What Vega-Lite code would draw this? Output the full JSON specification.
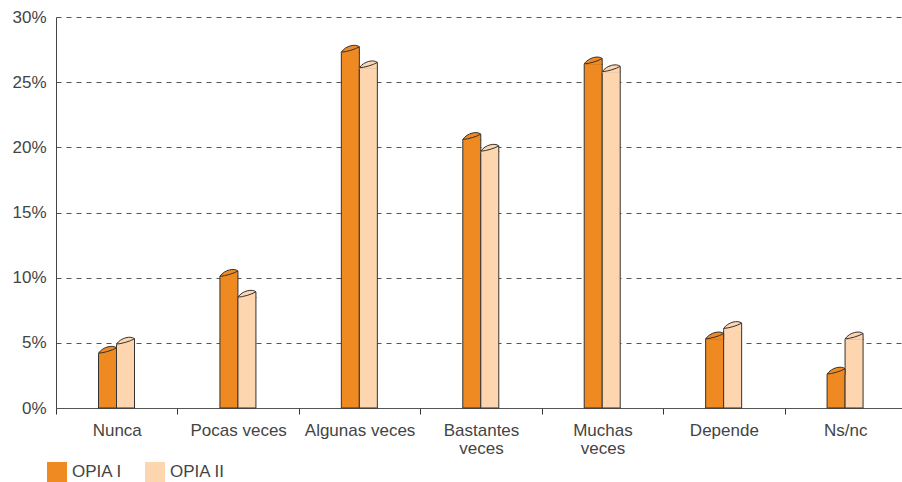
{
  "$schema": "https://vega.github.io/schema/vega-lite/v6.json",
  "width": 850,
  "height": 391,
  "autosize": "none",
  "padding": {"left": 56, "top": 17, "right": 0, "bottom": 74},
  "config": {"view": {"stroke": null}, "font": "Liberation Sans"},
  "data": {
    "values": [
      {"cat": "Nunca", "serie": "OPIA I", "value": 4.2},
      {"cat": "Nunca", "serie": "OPIA II", "value": 4.9},
      {"cat": "Pocas veces", "serie": "OPIA I", "value": 10.1},
      {"cat": "Pocas veces", "serie": "OPIA II", "value": 8.5},
      {"cat": "Algunas veces", "serie": "OPIA I", "value": 27.3},
      {"cat": "Algunas veces", "serie": "OPIA II", "value": 26.1},
      {"cat": "Bastantes veces", "serie": "OPIA I", "value": 20.6},
      {"cat": "Bastantes veces", "serie": "OPIA II", "value": 19.7},
      {"cat": "Muchas veces", "serie": "OPIA I", "value": 26.4},
      {"cat": "Muchas veces", "serie": "OPIA II", "value": 25.8},
      {"cat": "Depende", "serie": "OPIA I", "value": 5.3},
      {"cat": "Depende", "serie": "OPIA II", "value": 6.1},
      {"cat": "Ns/nc", "serie": "OPIA I", "value": 2.6},
      {"cat": "Ns/nc", "serie": "OPIA II", "value": 5.3}
    ]
  },
  "encoding": {
    "x": {
      "field": "cat",
      "type": "nominal",
      "sort": ["Nunca", "Pocas veces", "Algunas veces", "Bastantes veces", "Muchas veces", "Depende", "Ns/nc"],
      "scale": {"paddingInner": 0, "paddingOuter": 0},
      "axis": {
        "title": null,
        "labelAngle": 0,
        "labelFontSize": 17,
        "labelColor": "#444",
        "labelPadding": 8,
        "labelLineHeight": 18,
        "labelExpr": "datum.label == 'Bastantes veces' || datum.label == 'Muchas veces' ? split(datum.label, ' ') : datum.label",
        "tickBand": "extent",
        "tickSize": 6,
        "tickColor": "#333",
        "domainColor": "#555",
        "grid": false
      }
    },
    "xOffset": {
      "field": "serie",
      "type": "nominal",
      "sort": ["OPIA I", "OPIA II"],
      "scale": {"paddingInner": 0, "paddingOuter": 0, "range": [42.5, 78.5]}
    },
    "y": {
      "field": "value",
      "type": "quantitative",
      "scale": {"domain": [0, 30], "nice": false},
      "axis": {
        "title": null,
        "values": [0, 5, 10, 15, 20, 25, 30],
        "labelExpr": "datum.value + '%'",
        "labelFontSize": 17,
        "labelColor": "#444",
        "labelPadding": 10,
        "ticks": false,
        "domainColor": "#444",
        "gridColor": "#555",
        "gridDash": [5, 5],
        "gridWidth": 1
      }
    },
    "color": {
      "field": "serie",
      "type": "nominal",
      "scale": {"domain": ["OPIA I", "OPIA II"], "range": ["#EE8A21", "#FDD6B0"]},
      "legend": {
        "title": null,
        "orient": "none",
        "direction": "horizontal",
        "legendX": -9,
        "legendY": 445,
        "symbolType": "square",
        "symbolSize": 400,
        "symbolStrokeWidth": 0,
        "symbolOpacity": 1,
        "labelFontSize": 17,
        "labelColor": "#444",
        "labelOffset": 5,
        "columnPadding": 22
      }
    }
  },
  "layer": [
    {"mark": {"type": "bar", "stroke": "#333", "strokeWidth": 1}},
    {
      "mark": {
        "type": "point",
        "shape": "M-1,0.1 L1,0.1 L1,-0.6 C0.6,-0.95 -0.5,-0.75 -1,0 Z",
        "filled": true,
        "size": 324,
        "strokeWidth": 0,
        "opacity": 1
      }
    },
    {
      "mark": {
        "type": "point",
        "shape": "M-1,0 C-0.4,-0.05 0.5,-0.3 1,-0.6 C0.6,-0.95 -0.5,-0.75 -1,0 Z M1,-0.6 L1,0.1",
        "filled": false,
        "size": 324,
        "strokeWidth": 1,
        "opacity": 1
      },
      "encoding": {"color": {"value": "#333"}}
    }
  ]
}
